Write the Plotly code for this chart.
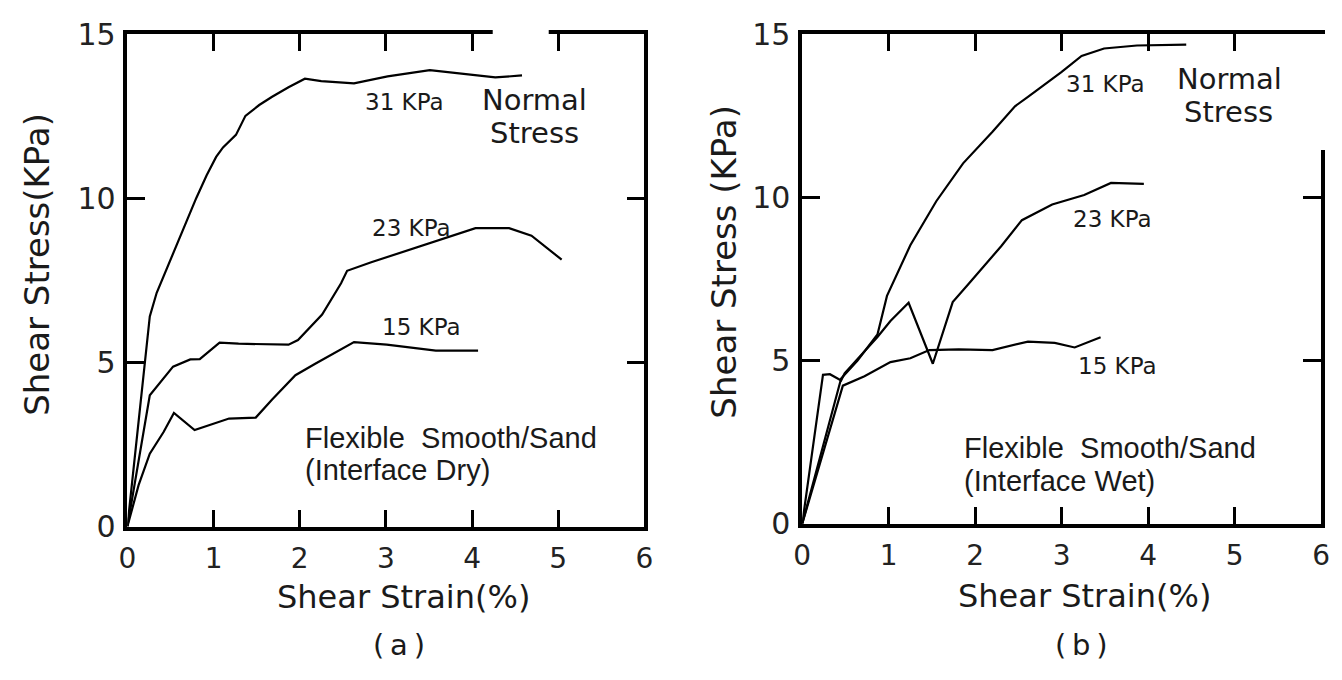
import plotly.graph_objects as go

# ---------------- data: panel (a) dry interface ----------------
a31_x = [0, 0.26, 0.34, 0.80, 0.92, 1.03, 1.11, 1.26, 1.37, 1.53, 1.68, 1.87, 2.06, 2.25, 2.63, 3.02, 3.51, 3.97, 4.27, 4.58]
a31_y = [0, 6.40, 7.12, 10.01, 10.7, 11.26, 11.55, 11.93, 12.51, 12.84, 13.09, 13.38, 13.64, 13.57, 13.50, 13.71, 13.90, 13.76, 13.68, 13.74]

a23_x = [0, 0.26, 0.53, 0.73, 0.84, 1.07, 1.29, 1.87, 1.98, 2.26, 2.48, 2.55, 2.83, 3.32, 3.78, 4.04, 4.43, 4.69, 5.04]
a23_y = [0, 4.00, 4.87, 5.09, 5.10, 5.60, 5.57, 5.54, 5.68, 6.46, 7.41, 7.79, 8.05, 8.48, 8.86, 9.09, 9.09, 8.86, 8.13]

a15_x = [0, 0.13, 0.26, 0.42, 0.54, 0.78, 1.18, 1.49, 1.68, 1.95, 2.18, 2.44, 2.63, 3.01, 3.58, 4.07]
a15_y = [0, 1.26, 2.22, 2.88, 3.46, 2.94, 3.29, 3.32, 3.87, 4.61, 4.96, 5.34, 5.62, 5.54, 5.36, 5.36]

# ---------------- data: panel (b) wet interface ----------------
b31_x = [0, 0.45, 0.64, 0.87, 0.98, 1.25, 1.55, 1.86, 2.20, 2.46, 2.61, 3.00, 3.23, 3.49, 3.87, 4.44]
b31_y = [0, 4.45, 5.00, 5.80, 6.98, 8.53, 9.88, 11.04, 12.01, 12.79, 13.08, 13.84, 14.33, 14.56, 14.65, 14.68]

b23_x = [0, 0.24, 0.32, 0.45, 0.49, 0.64, 0.87, 1.02, 1.23, 1.51, 1.74, 1.93, 2.12, 2.30, 2.54, 2.89, 3.26, 3.57, 3.95]
b23_y = [0, 4.56, 4.58, 4.39, 4.61, 5.05, 5.72, 6.21, 6.77, 4.90, 6.79, 7.37, 7.95, 8.50, 9.30, 9.78, 10.07, 10.44, 10.41]

b15_x = [0, 0.47, 0.72, 1.02, 1.25, 1.47, 1.81, 2.20, 2.61, 2.92, 3.15, 3.45]
b15_y = [0, 4.23, 4.52, 4.95, 5.07, 5.32, 5.34, 5.32, 5.58, 5.54, 5.40, 5.71]

x_ticks = [0, 1, 2, 3, 4, 5, 6]
y_ticks = [0, 5, 10, 15]

LETTER = "DejaVu Sans"
HELV = "Liberation Sans"
W, H = 1342, 680

fig = go.Figure()
line_style = dict(color="black", width=2.2)
for xs, ys in [(a31_x, a31_y), (a23_x, a23_y), (a15_x, a15_y)]:
    fig.add_trace(go.Scatter(x=xs, y=ys, mode="lines", line=line_style,
                             xaxis="x", yaxis="y", showlegend=False, hoverinfo="skip"))
for xs, ys in [(b31_x, b31_y), (b23_x, b23_y), (b15_x, b15_y)]:
    fig.add_trace(go.Scatter(x=xs, y=ys, mode="lines", line=line_style,
                             xaxis="x2", yaxis="y2", showlegend=False, hoverinfo="skip"))

def xax(dom, anchor):
    return dict(domain=dom, anchor=anchor, range=[0, 6], tickvals=x_ticks,
                ticks="inside", ticklen=17, tickwidth=2.5, tickcolor="black",
                showline=True, linewidth=3.5, linecolor="black", mirror="ticks",
                showgrid=False, zeroline=False, ticklabelstandoff=4,
                ticklabeloverflow="allow",
                tickfont=dict(family=LETTER, size=28, color="#222"))

def yax(dom, anchor):
    return dict(domain=dom, anchor=anchor, range=[0, 15], tickvals=y_ticks,
                ticks="inside", ticklen=18, tickwidth=2.5, tickcolor="black",
                showline=True, linewidth=3.5, linecolor="black", mirror="ticks",
                showgrid=False, zeroline=False, ticklabelstandoff=2,
                ticklabeloverflow="allow",
                tickfont=dict(family=LETTER, size=30, color="#222"))

fig.update_layout(
    width=W, height=H, margin=dict(l=0, r=0, t=0, b=0),
    paper_bgcolor="white", plot_bgcolor="white", showlegend=False,
    xaxis=xax([120 / W, 644 / W], "y"),
    yaxis=yax([(H - 537) / H, (H - 17) / H], "x"),
    xaxis2=xax([804 / W, 1330 / W], "y2"),
    yaxis2=yax([(H - 534) / H, (H - 17) / H], "x2"),
)

# small breaks in the printed frame (as in the scanned original)
fig.add_shape(type="rect", xref="x", yref="paper", x0=4.24, x1=4.89,
              y0=(H - 26) / H, y1=(H - 8) / H, fillcolor="white",
              line=dict(width=0), layer="above")
fig.add_shape(type="rect", xref="paper", yref="y2", x0=1326 / W, x1=1338 / W,
              y0=11.45, y1=15.6, fillcolor="white", line=dict(width=0), layer="above")

ann = []
def txt(text, x, y, xref, yref, size, family=LETTER, xanchor="center", yanchor="middle", angle=0):
    ann.append(dict(text=text, x=x, y=y, xref=xref, yref=yref, showarrow=False,
                    xanchor=xanchor, yanchor=yanchor, textangle=angle, borderpad=0,
                    font=dict(family=family, size=size, color="#1a1a1a")))

# in-plot labels panel (a)
txt("31 KPa", 3.22, 12.94, "x", "y", 23)
txt("Normal", 4.72, 12.98, "x", "y", 29)
txt("Stress", 4.72, 12.00, "x", "y", 29)
txt("23 KPa", 3.30, 9.08, "x", "y", 23)
txt("15 KPa", 3.41, 6.07, "x", "y", 23)
txt("Flexible\u00a0 Smooth/Sand", 2.05, 2.71, "x", "y", 29, HELV, xanchor="left")
txt("(Interface Dry)", 2.05, 1.73, "x", "y", 29, HELV, xanchor="left")

# in-plot labels panel (b)
txt("31 KPa", 3.51, 13.46, "x2", "y2", 23)
txt("Normal", 4.94, 13.61, "x2", "y2", 29)
txt("Stress", 4.93, 12.62, "x2", "y2", 29)
txt("23 KPa", 3.59, 9.33, "x2", "y2", 23)
txt("15 KPa", 3.65, 4.84, "x2", "y2", 23)
txt("Flexible\u00a0 Smooth/Sand", 1.86, 2.31, "x2", "y2", 29, HELV, xanchor="left")
txt("(Interface Wet)", 1.86, 1.31, "x2", "y2", 29, HELV, xanchor="left")

# axis titles and panel captions (paper coordinates)
txt("Shear Stress(KPa)", 29 / W, 1 - 260 / H, "paper", "paper", 34, angle=-90)
txt("Shear Stress (KPa)", 725 / W, 1 - 257 / H, "paper", "paper", 34, angle=-90)
txt("Shear Strain(%)", 400 / W, 1 - 611 / H, "paper", "paper", 32)
txt("Shear Strain(%)", 1090 / W, 1 - 610 / H, "paper", "paper", 32)
txt("(\u2009a\u2009)", 395 / W, 1 - 662 / H, "paper", "paper", 29)
txt("(\u2009b\u2009)", 1087 / W, 1 - 662 / H, "paper", "paper", 29)

fig.update_layout(annotations=ann)
fig.write_html("out.html")
